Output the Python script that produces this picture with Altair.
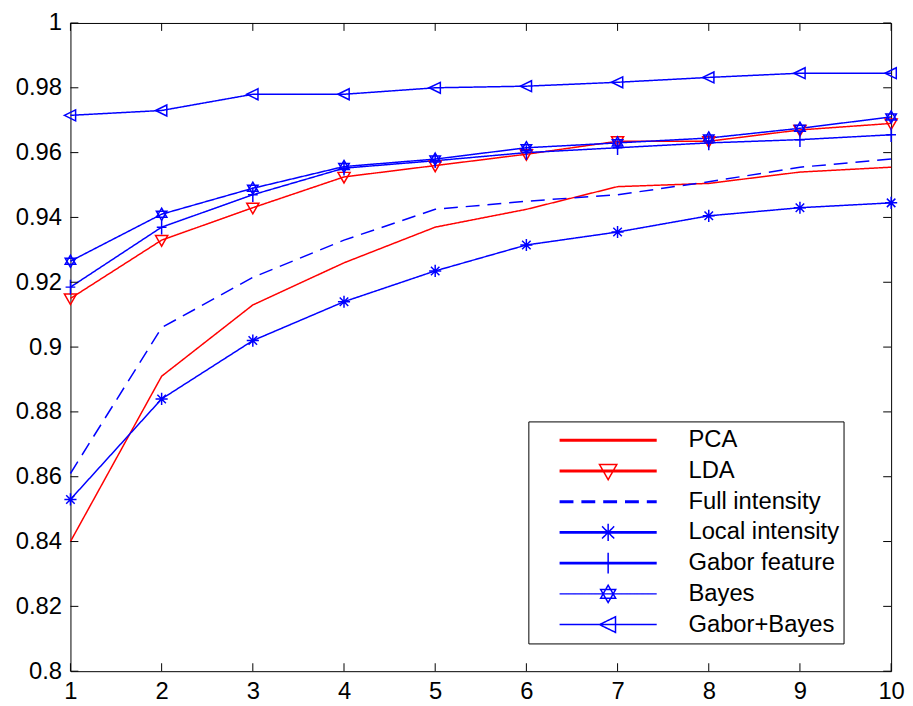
import altair as alt
import pandas as pd

# ---------------- data ----------------
x_vals = [1, 2, 3, 4, 5, 6, 7, 8, 9, 10]
series_names = ["PCA", "LDA", "Full intensity", "Local intensity",
                "Gabor feature", "Bayes", "Gabor+Bayes"]
pca = [0.840, 0.891, 0.913, 0.926, 0.937, 0.9425, 0.9495, 0.9505, 0.954, 0.9555]
lda = [0.915, 0.933, 0.943, 0.9525, 0.956, 0.9595, 0.9635, 0.9635, 0.967, 0.969]
full_intensity = [0.861, 0.906, 0.9215, 0.933, 0.9425, 0.945, 0.947, 0.951, 0.9555, 0.958]
local_intensity = [0.853, 0.884, 0.902, 0.914, 0.9235, 0.9315, 0.9355, 0.9405, 0.943, 0.9445]
gabor_feature = [0.9185, 0.937, 0.947, 0.9552, 0.9575, 0.960, 0.9615, 0.963, 0.964, 0.9655]
bayes = [0.9265, 0.941, 0.949, 0.9557, 0.958, 0.9615, 0.963, 0.9645, 0.9675, 0.971]
gabor_bayes = [0.9715, 0.973, 0.978, 0.978, 0.980, 0.9805, 0.9817, 0.9832, 0.9845, 0.9845]
ytick_vals = [0.8, 0.82, 0.84, 0.86, 0.88, 0.9, 0.92, 0.94, 0.96, 0.98, 1.0]
xtick_vals = x_vals

series_values = [pca, lda, full_intensity, local_intensity, gabor_feature, bayes, gabor_bayes]
rows = []
for name, vals in zip(series_names, series_values):
    for xv, yv in zip(x_vals, vals):
        rows.append({"series": name, "x": xv, "value": yv})
df = pd.DataFrame(rows)

# ---------------- styles ----------------
RED, BLUE = "#ff0000", "#0000ff"
series_colors = [RED, RED, BLUE, BLUE, BLUE, BLUE, BLUE]
series_dash = [[1, 0], [1, 0], [14, 8], [1, 0], [1, 0], [1, 0], [1, 0]]
legend_thick = [True, True, True, True, True, False, False]
FONT = "Liberation Sans"
W, H = 828, 654

# marker outlines in unit coordinates: (points, closed)
marker_defs = {
    "PCA": [],
    "LDA": [([(-1, -0.75), (1, -0.75), (0, 1)], True)],
    "Full intensity": [],
    "Local intensity": [([(-1, 0), (1, 0)], False), ([(0, -1), (0, 1)], False),
                        ([(-0.7, -0.7), (0.7, 0.7)], False), ([(-0.7, 0.7), (0.7, -0.7)], False)],
    "Gabor feature": [([(-0.8, 0), (0.8, 0)], False), ([(0, -1.2), (0, 1.2)], False)],
    "Bayes": [([(0, -1), (0.866, 0.5), (-0.866, 0.5)], True),
              ([(0, 1), (0.866, -0.5), (-0.866, -0.5)], True)],
    "Gabor+Bayes": [([(-1, 0), (0.85, -0.9), (0.85, 0.9)], True),
                    ([(0.85, -1), (0.85, 1)], False)],
}


def path_of(parts, s=1.0, dx=0.0):
    out = []
    for pts, closed in parts:
        seg = "M%.4f,%.4f" % (pts[0][0] * s + dx, pts[0][1] * s)
        for px, py in pts[1:]:
            seg += "L%.4f,%.4f" % (px * s + dx, py * s)
        if closed:
            seg += "Z"
        out.append(seg)
    return "".join(out)


marker_series = [n for n in series_names if marker_defs[n]]
marker_paths = [path_of(marker_defs[n]) for n in marker_series]

# legend symbols: line + marker (symbol box 125px wide, line starts 27px in)
LEG_PX = 125
LEG_SIZE = LEG_PX * LEG_PX
unit_px = 2.0 / LEG_PX
line_start, line_end = -0.568, 1.0
mcx = (line_start + line_end) / 2
legend_paths = []
for n, thick in zip(series_names, legend_thick):
    offsets = [-0.7, 0.0, 0.7] if thick else [0.0]
    p = ""
    for o in offsets:
        p += "M%.3f,%.4fL%.3f,%.4f" % (line_start, o * unit_px, line_end, o * unit_px)
    p += path_of(marker_defs[n], s=0.14, dx=mcx)
    legend_paths.append(p)

# ---------------- scales / axes ----------------
xscale = alt.Scale(domain=[1, 10], nice=False, zero=False)
yscale = alt.Scale(domain=[0.8, 1.0], nice=False, zero=False)
color_scale = alt.Scale(domain=series_names, range=series_colors)
dash_scale = alt.Scale(domain=series_names, range=series_dash)

x_axis = alt.Axis(values=xtick_vals, format="d", ticks=False, domain=False, grid=False,
                  labelFontSize=24, labelFont=FONT, labelColor="black", labelPadding=9,
                  labelFlush=False, labelOverlap=False, labelBound=False, title=None)
y_axis = alt.Axis(values=ytick_vals, format="~g", ticks=False, domain=False, grid=False,
                  labelFontSize=24, labelFont=FONT, labelColor="black", labelPadding=9,
                  labelFlush=False, labelOverlap=False, labelBound=False, title=None)


def X(field):
    return alt.X(field, scale=xscale, axis=x_axis)


def Y(field):
    return alt.Y(field, scale=yscale, axis=y_axis)


base = alt.Chart(df)

lines = base.mark_line(strokeWidth=1.5).encode(
    x=X("x:Q"),
    y=Y("value:Q"),
    color=alt.Color("series:N", scale=color_scale, legend=None),
    strokeDash=alt.StrokeDash("series:N", scale=dash_scale, legend=None),
)

points = base.transform_filter(
    alt.FieldOneOfPredicate(field="series", oneOf=marker_series)
).mark_point(filled=False, size=150, strokeWidth=1.5, opacity=1).encode(
    x=X("x:Q"),
    y=Y("value:Q"),
    color=alt.Color("series:N", scale=color_scale, legend=None),
    shape=alt.Shape("series:N", scale=alt.Scale(domain=marker_series, range=marker_paths), legend=None),
)

legend_layer = base.transform_filter("false").mark_point(
    filled=False, size=LEG_SIZE, opacity=1, strokeWidth=1.4
).encode(
    x=X("x:Q"),
    y=Y("value:Q"),
    color=alt.Color("series:N", scale=color_scale, legend=alt.Legend(title=None)),
    shape=alt.Shape("series:N", scale=alt.Scale(domain=series_names, range=legend_paths),
                    legend=alt.Legend(title=None)),
    strokeDash=alt.StrokeDash("series:N", scale=dash_scale, legend=alt.Legend(title=None)),
)

ytick_df = pd.DataFrame({"tick": ytick_vals})
xtick_df = pd.DataFrame({"tick": xtick_vals})
ytick_left = alt.Chart(ytick_df).mark_rule(color="black", strokeWidth=1).encode(
    y=Y("tick:Q"), x=alt.value(0), x2=alt.value(8))
ytick_right = alt.Chart(ytick_df).mark_rule(color="black", strokeWidth=1).encode(
    y=Y("tick:Q"), x=alt.value(W - 8), x2=alt.value(W))
xtick_bottom = alt.Chart(xtick_df).mark_rule(color="black", strokeWidth=1).encode(
    x=X("tick:Q"), y=alt.value(H), y2=alt.value(H - 8))
xtick_top = alt.Chart(xtick_df).mark_rule(color="black", strokeWidth=1).encode(
    x=X("tick:Q"), y=alt.value(0), y2=alt.value(8))

chart = alt.layer(
    lines, points, ytick_left, ytick_right, xtick_bottom, xtick_top, legend_layer
).resolve_scale(
    color="independent", shape="independent", strokeDash="independent"
).properties(
    width=W, height=H,
    autosize=alt.AutoSizeParams(type="none"),
    padding={"left": 63, "top": 12, "right": 14, "bottom": 30},
    background="white",
).configure_view(
    stroke="black", strokeWidth=1
).configure_legend(
    orient="none", legendX=462, legendY=402, padding=3.5,
    strokeColor="black", fillColor="white", clipHeight=31, rowPadding=0,
    labelFontSize=24, labelFont=FONT, labelColor="black", labelOffset=31,
    labelLimit=400, symbolSize=LEG_SIZE, symbolFillColor="transparent",
)

chart.save("out.html", embed_options={"renderer": "svg", "actions": False})
